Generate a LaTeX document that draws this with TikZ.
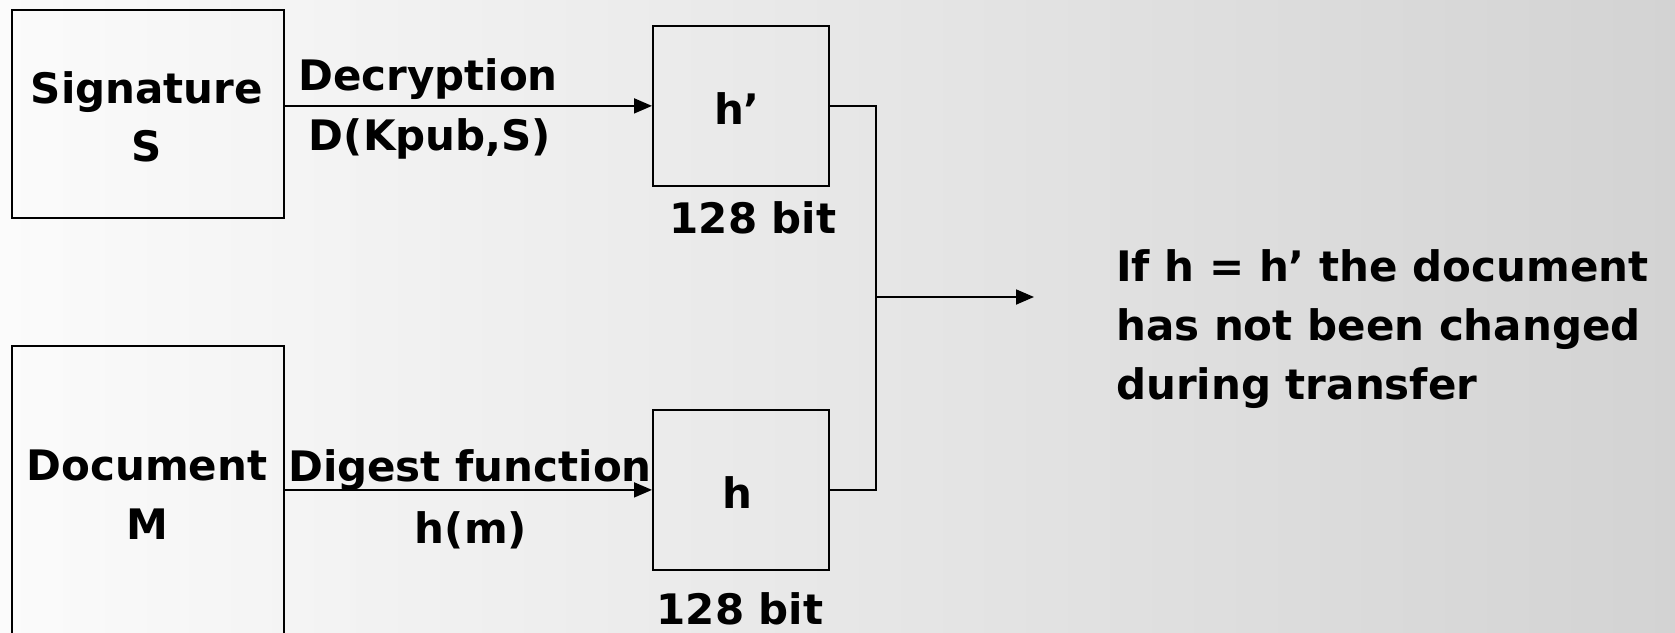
\documentclass[tikz,border=0pt]{standalone}
\usepackage{fontspec}
\setmainfont{DejaVu Sans}
\usetikzlibrary{arrows.meta}
\definecolor{bgleft}{HTML}{FBFBFB}
\definecolor{bgright}{HTML}{D3D3D3}
\begin{document}
\begin{tikzpicture}[x=1pt,y=-1pt,
  box/.style={draw,line width=1.8pt,inner sep=0pt,anchor=north west},
  lbl/.style={font=\bfseries\fontsize{42}{59}\selectfont,inner sep=0pt,anchor=base},
  conn/.style={line width=1.8pt},
  flow/.style={conn,-{Triangle[length=18pt,width=15pt]}}]
\useasboundingbox (0,0) rectangle (1675,632);
\clip (0,0) rectangle (1675,632);
\shade[left color=bgleft,right color=bgright] (0,0) rectangle (1675,632);

% source boxes
\node[box,minimum width=272pt,minimum height=208pt] (sig) at (11,9) {};
\node[box,minimum width=272pt,minimum height=300pt] (doc) at (11,345) {};
\node[lbl] (sigt) at (147,103) {Signature};
\node[lbl] (sigs) at (147,161) {S};
\node[lbl] (doct) at (147,480) {Document};
\node[lbl] (docm) at (147,539) {M};

% hash boxes
\node[box,minimum width=176pt,minimum height=160pt] (hp) at (652,25) {};
\node[box,minimum width=176pt,minimum height=160pt] (h) at (652,409) {};
\node[lbl] (hpt) at (737,124) {h’};
\node[lbl] (ht) at (737,508) {h};
\node[lbl] (hpbits) at (753,233) {128 bit};
\node[lbl] (hbits) at (740,624) {128 bit};

% arrow labels
\node[lbl] (dec) at (428,90) {Decryption};
\node[lbl] (decf) at (430,150) {D(Kpub,S)};
\node[lbl] (dig) at (470,481) {Digest function};
\node[lbl] (digf) at (471,543) {h(m)};

% connectors
\draw[flow] (sig.east |- hp.west) -- (hp.west);
\draw[flow] (doc.east |- h.west) -- (h.west);
\coordinate (join) at (876,297);
\coordinate (out) at (1034,297);
\draw[conn] (hp.east) -| (join) |- (h.east);
\draw[flow] (join) -- (out);

% conclusion (anchored at the baseline of its last line)
\node[font=\bfseries\fontsize{42}{59}\selectfont,inner sep=0pt,anchor=base west,align=left] (res) at (1116,399)
  {If h = h’ the document\\has not been changed\\during transfer};
\end{tikzpicture}
\end{document}
